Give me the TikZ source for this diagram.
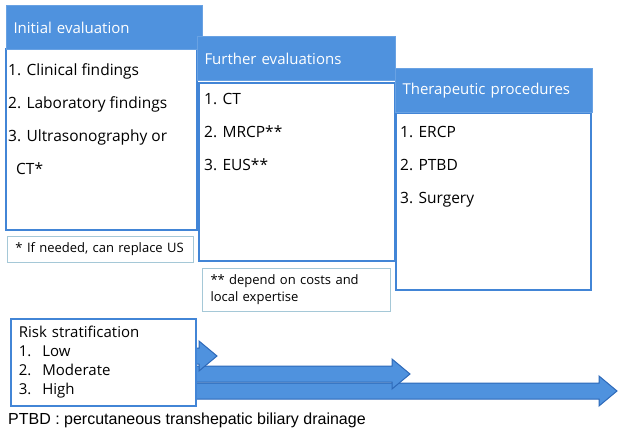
\documentclass[tikz,border=0pt]{standalone}
\usepackage{fontspec}
\setmainfont{Open Sans}
\newfontfamily\arialfont{Liberation Sans}
\usetikzlibrary{matrix,positioning}

\definecolor{hdrblue}{RGB}{79,146,222}
\definecolor{boxblue}{RGB}{66,133,214}
\definecolor{notegray}{RGB}{165,200,215}
\definecolor{arrowline}{RGB}{45,105,185}

\begin{document}
\begin{tikzpicture}[x=1pt,y=-1pt,
	every node/.style={inner sep=0pt, font=\fontsize{15.5}{18}\selectfont},
	hdr/.style={anchor=north west, fill=hdrblue, draw=hdrblue!85!white, line width=1pt, minimum height=44pt, text width=#1, text=white, align=left, inner xsep=7pt, font=\fontsize{15}{18}\selectfont},
	body/.style={anchor=north west, draw=boxblue, line width=1.6pt, fill=white, minimum width=#1, minimum height=178pt},
	items/.style={matrix of nodes, nodes={anchor=base west}, row sep={33pt,between origins}},
	note/.style={anchor=north west, draw=notegray, line width=1pt, fill=white, align=left, text width=#1, font=\fontsize{13}{17}\selectfont, inner xsep=8pt},
	blockarrow/.style={fill=hdrblue, draw=arrowline, line width=1pt, line join=miter}]
	\useasboundingbox (0,0) rectangle (618,433);

	\node[body=191pt, minimum height=181pt] (initbody) at (5,48) {};
	\node[hdr=182pt] (inithead) at (6,5) {Initial evaluation};
	\matrix (initlist) [items, anchor=north west, below right=15pt and 3pt of initbody.north west] {
		1. Clinical findings \\
		2. Laboratory findings \\
		3. Ultrasonography or \\
		\hspace{8pt}CT* \\
	};

	\node[body=196pt] (furtherbody) at (198,82) {};
	\node[hdr=184pt] (furtherhead) at (197,36) {Further evaluations};
	\matrix (furtherlist) [items, anchor=north west, below right=11pt and 6pt of furtherbody.north west] {
		1. CT \\
		2. MRCP** \\
		3. EUS** \\
	};

	\node[body=195pt, minimum height=177pt] (therabody) at (395,112) {};
	\node[hdr=183pt] (therahead) at (395,68) {Therapeutic procedures};
	\matrix (theralist) [items, anchor=north west, below right=14pt and 5pt of therabody.north west] {
		1. ERCP \\
		2. PTBD \\
		3. Surgery \\
	};

	\node[note=170pt, minimum height=26pt] (initnote) at (7,236) {* If needed, can replace US};
	\node[note=172pt, minimum height=43pt] (furthernote) at (202,268) {** depend on costs and\\local expertise};

	\foreach \yc/\tip in {391/617, 374/410, 356/217}
		\filldraw[blockarrow] (150,\yc-8) -- (\tip-18,\yc-8) -- (\tip-18,\yc-15) -- (\tip,\yc)
			-- (\tip-18,\yc+15) -- (\tip-18,\yc+8) -- (150,\yc+8) -- cycle;

	\node[anchor=north west, draw=boxblue, line width=1.6pt, fill=white, minimum width=185pt, minimum height=87pt, text width=169pt, align=left, inner xsep=8pt, font=\fontsize{15}{19}\selectfont] (risk) at (10,318)
		{Risk stratification\\1.\hspace{11pt}Low\\2.\hspace{11pt}Moderate\\3.\hspace{11pt}High};

	\node[anchor=west, font=\arialfont\fontsize{16}{18}\selectfont] (abbrev) at (8,420) {PTBD : percutaneous transhepatic biliary drainage};
\end{tikzpicture}
\end{document}
